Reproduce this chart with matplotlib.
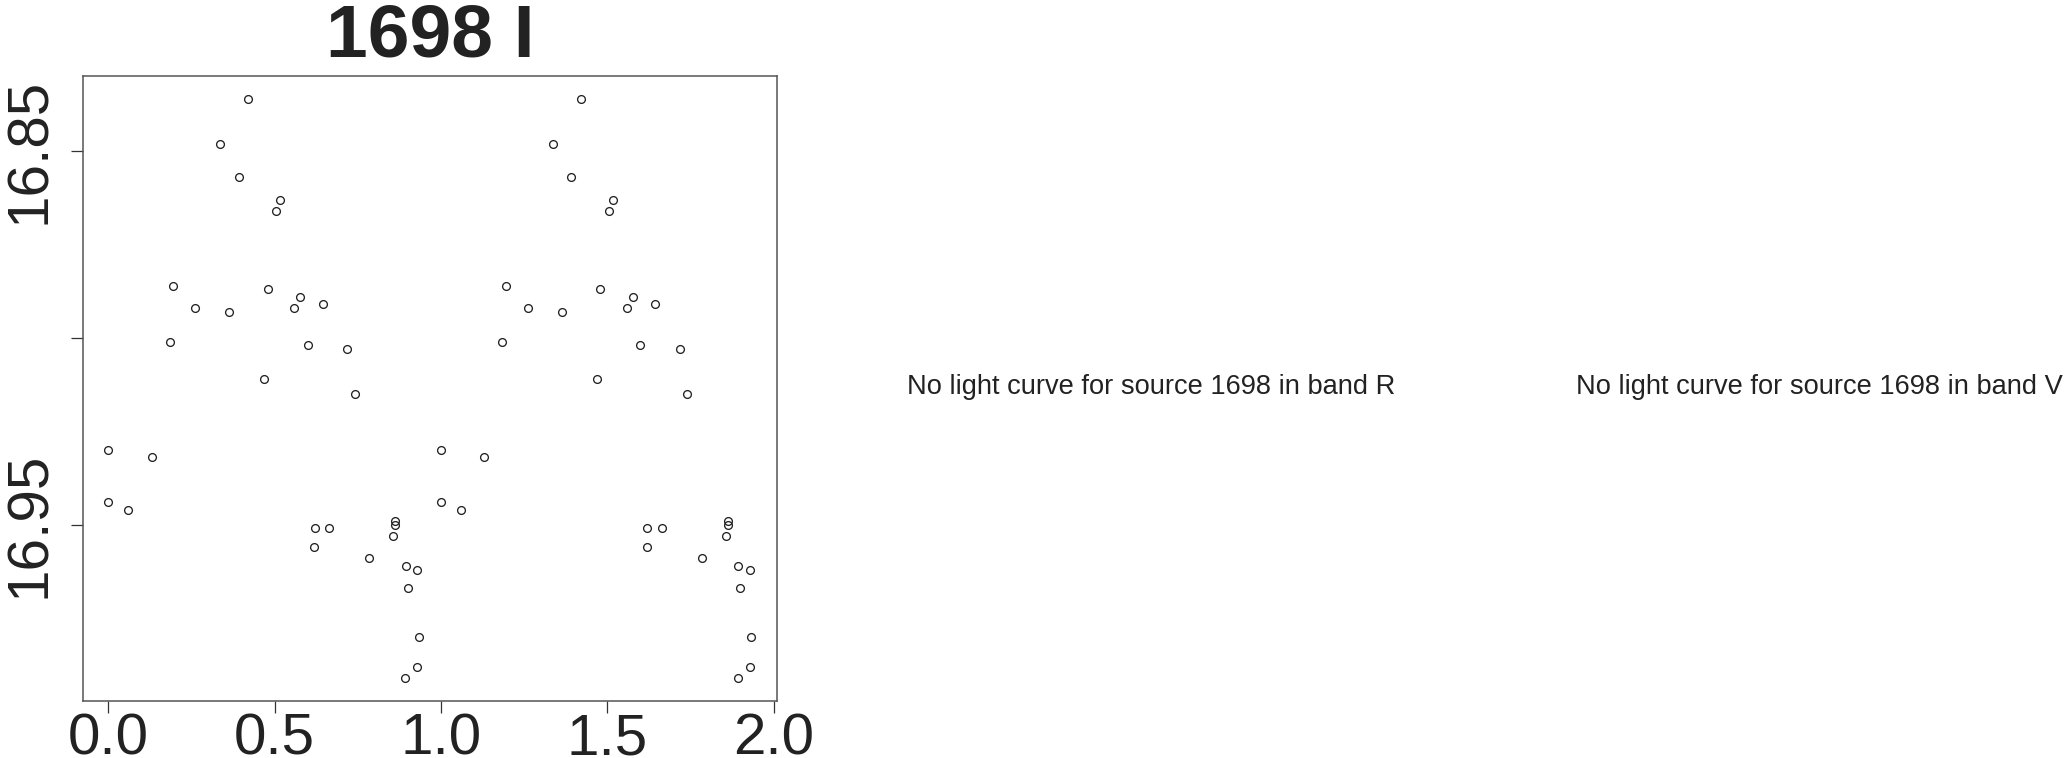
import numpy as np
import matplotlib.pyplot as plt

plt.rcParams['font.family'] = ['Liberation Sans', 'DejaVu Sans']

# phase-folded light curve for source 1698, band I (one cycle, shown twice)
phase = [0.421, 0.337, 0.392, 0.516, 0.504, 0.194, 0.261, 0.364, 0.479,
         0.577, 0.558, 0.644, 0.184, 0.599, 0.718, 0.468, 0.741, 0.000,
         0.130, 0.000, 0.060, 0.620, 0.664, 0.618, 0.784, 0.863, 0.862,
         0.857, 0.894, 0.928, 0.900, 0.933, 0.929, 0.892]
mag = [16.836, 16.848, 16.857, 16.863, 16.866, 16.886, 16.892, 16.893,
       16.887, 16.889, 16.892, 16.891, 16.901, 16.902, 16.903, 16.911,
       16.915, 16.930, 16.932, 16.944, 16.946, 16.951, 16.951, 16.956,
       16.959, 16.949, 16.950, 16.953, 16.961, 16.962, 16.967, 16.980,
       16.988, 16.991]
yticks = [16.85, 16.90, 16.95]
ytick_labels = ['16.85', '', '16.95']
xticks = [0.0, 0.5, 1.0, 1.5, 2.0]
title = '1698 I'
missing = ['No light curve for source 1698 in band R',
           'No light curve for source 1698 in band V']

W, H = 2065, 758
fig = plt.figure(figsize=(W / 100, H / 100), dpi=100)
ax = fig.add_axes([82.7 / W, 1 - 701 / H, (777 - 82.7) / W, (701 - 75.7) / H])

x = np.concatenate([phase, np.array(phase) + 1])
y = np.concatenate([mag, mag])
ax.plot(x, y, 'o', ls='none', mfc='none', mec='#222222', ms=5.6, mew=0.95)

ax.margins(x=0.04, y=0.04)
ax.invert_yaxis()

ax.set_xticks(xticks)
ax.set_xticklabels([f'{t:.1f}' for t in xticks])
ax.set_yticks(yticks)
ax.set_yticklabels(ytick_labels, rotation=90, va='center')

ax.tick_params(axis='both', labelsize=42, length=8.4, width=0.9,
               color='#333333', labelcolor='#222222')
ax.tick_params(axis='x', pad=0)
ax.tick_params(axis='y', pad=10)
for s in ax.spines.values():
    s.set_color('#555555')
    s.set_linewidth(1.1)

fig.text(430.5 / W, 1 - 56.7 / H, title, ha='center', va='baseline',
         fontsize=54, fontweight='bold', color='#222222')

fig.text(907 / W, 1 - 394 / H, missing[0], ha='left', va='baseline',
         fontsize=19.6, color='#222222')
fig.text(1576 / W, 1 - 394 / H, missing[1], ha='left', va='baseline',
         fontsize=19.6, color='#222222')

fig.savefig('out.png', dpi=100)
